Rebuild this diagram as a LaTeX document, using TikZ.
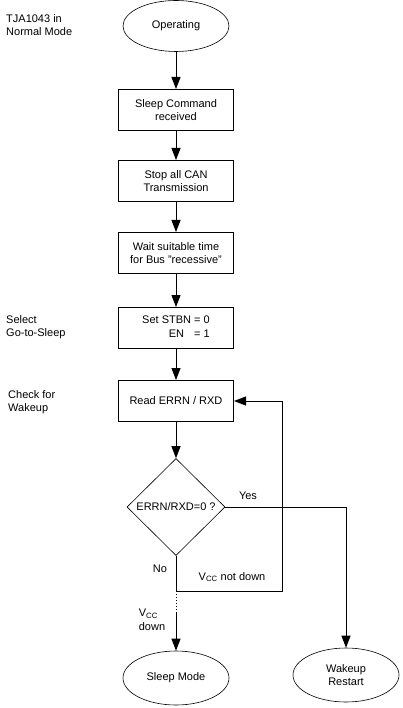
\documentclass[tikz,border=0pt]{standalone}
\usepackage{fontspec}
\setmainfont{Liberation Sans}
\usetikzlibrary{shapes.geometric,arrows.meta}
\begin{document}
\begin{tikzpicture}[x=1pt,y=-1pt,
  every node/.style={font=\fontsize{11}{13.5}\selectfont},
  oval/.style={draw,ellipse,line width=0.6pt,minimum width=106pt,minimum height=51pt,inner sep=0pt,align=center},
  stepbox/.style={draw,rectangle,line width=1pt,minimum width=115pt,minimum height=41pt,inner sep=0pt,align=center},
  decision/.style={draw,diamond,line width=0.6pt,minimum width=98pt,minimum height=97pt,inner sep=0pt,align=center},
  flow/.style={line width=1pt,-{Triangle[length=12pt,width=9pt]}},
  plain/.style={line width=1pt},
  side/.style={anchor=west,align=left,inner sep=0pt}]
\useasboundingbox (0,0) rectangle (402,708);
\node[oval] (op) at (176,26) {Operating};
\node[stepbox] (sc) at (176,110) {Sleep Command\\received};
\node[stepbox] (stop) at (176,181) {Stop all CAN\\Transmission};
\node[stepbox] (wait) at (176,253) {Wait suitable time\\for Bus "recessive"};
\node[stepbox] (set) at (176,328) {\begin{tabular}{@{}r@{}}Set STBN = 0\\EN\hspace{10pt}= 1\end{tabular}};
\node[stepbox] (read) at (176,401) {Read ERRN / RXD};
\node[decision] (dia) at (176,507) {ERRN/RXD=0 ?};
\node[oval,minimum height=54pt] (sleep) at (176,678) {Sleep Mode};
\node[oval,minimum height=54pt] (wake) at (346,675) {Wakeup\\Restart};
\coordinate (j) at (176,591);
\coordinate (d) at (176,612);
\coordinate (c) at (282,591);
\node[side] (l1) at (6,25) {TJA1043 in\\Normal Mode};
\node[side] (l2) at (6,327) {Select\\Go-to-Sleep};
\node[side] (l3) at (8,402) {Check for\\Wakeup};
\node (yes) at (248,496) {Yes};
\node (no) at (160,569) {No};
\node (vnd) at (232,577) {V\textsubscript{CC} not down};
\node[align=left] (vd) at (152,620) {V\textsubscript{CC}\\down};
\draw[flow] (op) -- (sc);
\draw[flow] (sc) -- (stop);
\draw[flow] (stop) -- (wait);
\draw[flow] (wait) -- (set);
\draw[flow] (set) -- (read);
\draw[flow] (read) -- (dia);
\draw[flow] (dia.east) -| (wake.north);
\draw[plain] (dia.south) -- (j);
\draw[line width=1pt,dotted] (j) -- (d);
\draw[flow] (d) -- (sleep.north);
\draw[flow] (j) -- (c) |- (read.east);
\end{tikzpicture}
\end{document}
